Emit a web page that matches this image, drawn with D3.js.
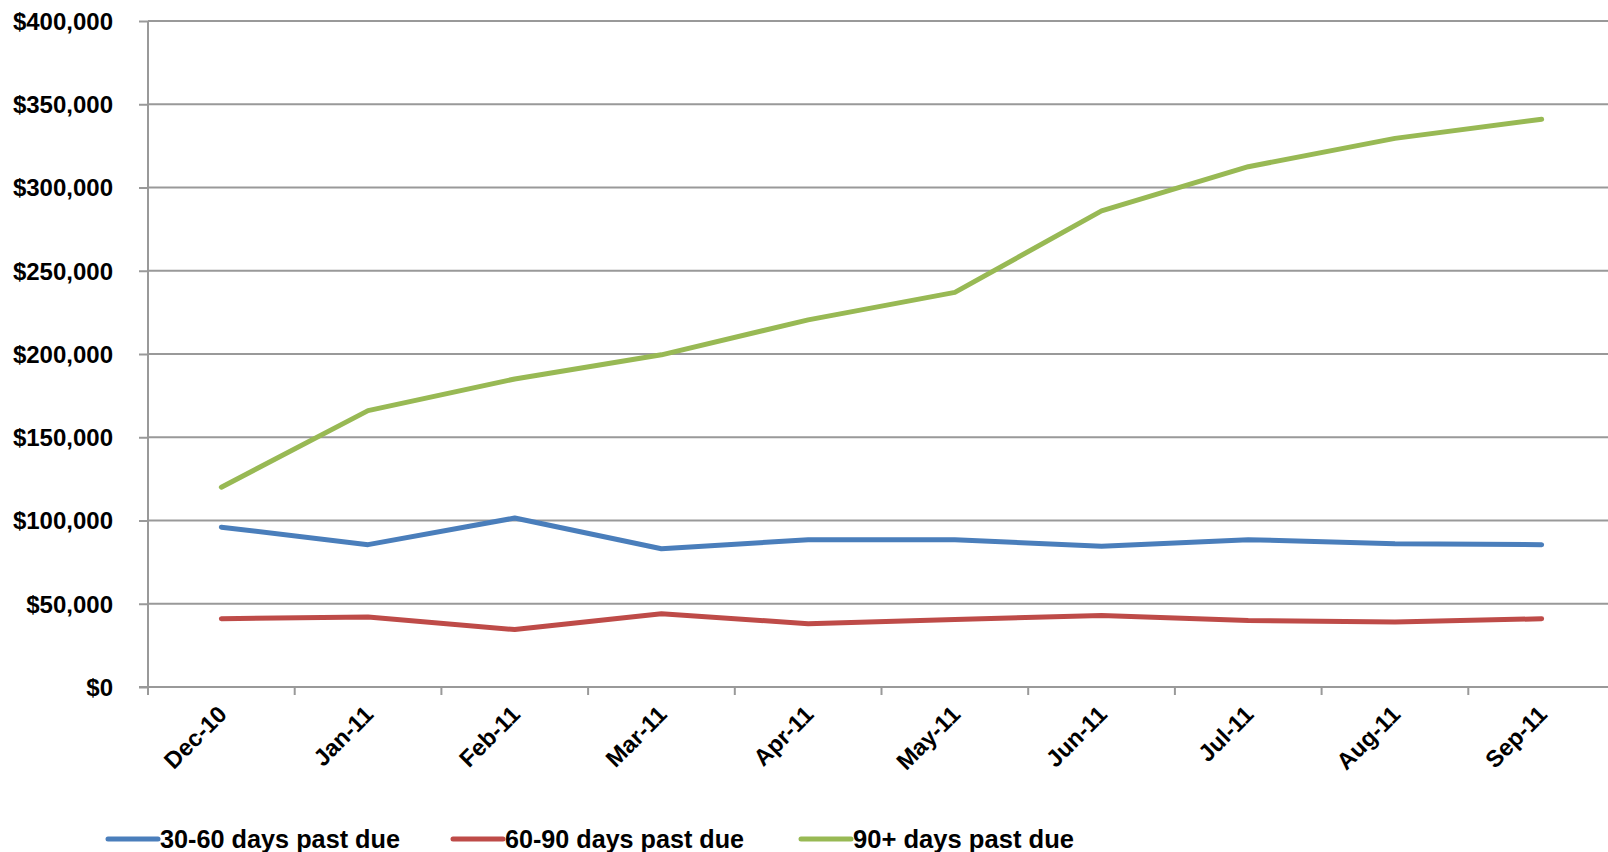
<!DOCTYPE html>
<html>
<head>
<meta charset="utf-8">
<script src="https://cdn.jsdelivr.net/npm/d3@7"></script>
<style>
  body { margin: 0; background: #fff; }
  svg { display: block; }
  .tick text { font-family: Arial, "Liberation Sans", sans-serif; font-weight: bold; fill: #000; }
</style>
</head>
<body>
<svg id="chart" width="1608" height="852"></svg>
<script>
// data
var months = ["Dec-10", "Jan-11", "Feb-11", "Mar-11", "Apr-11", "May-11", "Jun-11", "Jul-11", "Aug-11", "Sep-11"];
var days30_60 = [96000, 85500, 101500, 83000, 88500, 88500, 84500, 88500, 86000, 85500];
var days60_90 = [41000, 42000, 34500, 44000, 38000, 40500, 43000, 40000, 39000, 41000];
var days90plus = [120000, 166000, 185000, 199500, 220500, 237000, 286000, 312500, 329500, 341000];
var yTicks = [0, 50000, 100000, 150000, 200000, 250000, 300000, 350000, 400000];

var series = [
	{ name: "30-60 days past due", values: days30_60, color: "#4a7ebb" },
	{ name: "60-90 days past due", values: days60_90, color: "#be4b48" },
	{ name: "90+ days past due", values: days90plus, color: "#98b954" }
];

var svg = d3.select("#chart");

var margin = { left: 148, top: 21, bottom: 687, right: 1615 };

var x = d3.scaleBand().domain(months).range([margin.left, margin.right]);
var y = d3.scaleLinear().domain([0, 400000]).range([margin.bottom, margin.top]);

var gridColor = "#999";

// horizontal gridlines
svg.append("g")
	.selectAll("line")
	.data(yTicks.filter(function(d){ return d > 0; }))
	.enter().append("line")
	.attr("x1", margin.left)
	.attr("x2", 1608)
	.attr("y1", function(d){ return y(d); })
	.attr("y2", function(d){ return y(d); })
	.attr("stroke", gridColor)
	.attr("stroke-width", 2);

// y axis
var yAxis = svg.append("g")
	.attr("transform", "translate(" + margin.left + ",0)")
	.call(d3.axisLeft(y).tickValues(yTicks).tickSize(9).tickPadding(26)
		.tickFormat(function(d){ return "$" + d3.format(",")(d); }));
yAxis.selectAll("path, line").attr("stroke", gridColor).attr("stroke-width", 2);
yAxis.select(".domain").attr("d", "M0," + margin.top + "V" + margin.bottom);
yAxis.selectAll("text").attr("font-size", 24).attr("dy", "0.35em");

// x axis with ticks on band edges
var xAxis = svg.append("g")
	.attr("transform", "translate(0," + margin.bottom + ")");
xAxis.append("line")
	.attr("x1", margin.left - 9).attr("x2", 1608)
	.attr("stroke", gridColor).attr("stroke-width", 2);
xAxis.selectAll(".edge")
	.data(months)
	.enter().append("line")
	.attr("class", "edge")
	.attr("x1", function(d){ return x(d); })
	.attr("x2", function(d){ return x(d); })
	.attr("y1", 0).attr("y2", 8)
	.attr("stroke", gridColor).attr("stroke-width", 2);
xAxis.selectAll(".lbl")
	.data(months)
	.enter().append("text")
	.attr("class", "lbl")
	.attr("font-family", "Arial, 'Liberation Sans', sans-serif")
	.attr("font-weight", "bold")
	.attr("font-size", 23.5)
	.attr("text-anchor", "end")
	.attr("transform", function(d){
		return "translate(" + (x(d) + x.bandwidth() / 2 + 1) + ",23) rotate(-45)";
	})
	.attr("dy", "0.35em")
	.text(function(d){ return d; });

// lines
var line = d3.line()
	.x(function(d, i){ return x(months[i]) + x.bandwidth() / 2; })
	.y(function(d){ return y(d); });

svg.append("g")
	.selectAll("path")
	.data(series)
	.enter().append("path")
	.attr("d", function(d){ return line(d.values); })
	.attr("fill", "none")
	.attr("stroke", function(d){ return d.color; })
	.attr("stroke-width", 5)
	.attr("stroke-linejoin", "round")
	.attr("stroke-linecap", "round");

// legend
var legendX = [108, 453, 801];
var legend = svg.append("g")
	.selectAll("g")
	.data(series)
	.enter().append("g")
	.attr("transform", function(d, i){ return "translate(" + legendX[i] + ",839)"; });

legend.append("line")
	.attr("x1", 0).attr("x2", 50)
	.attr("stroke", function(d){ return d.color; })
	.attr("stroke-width", 5)
	.attr("stroke-linecap", "round");

legend.append("text")
	.attr("x", 52)
	.attr("dy", "0.35em")
	.attr("font-family", "'Liberation Sans Narrow', 'Arial Narrow', Arial, sans-serif")
	.attr("font-weight", "bold")
	.attr("font-size", 25)
	.attr("textLength", function(d, i){ return [240, 239, 221][i]; })
	.attr("lengthAdjust", "spacingAndGlyphs")
	.text(function(d){ return d.name; });
</script>
</body>
</html>
